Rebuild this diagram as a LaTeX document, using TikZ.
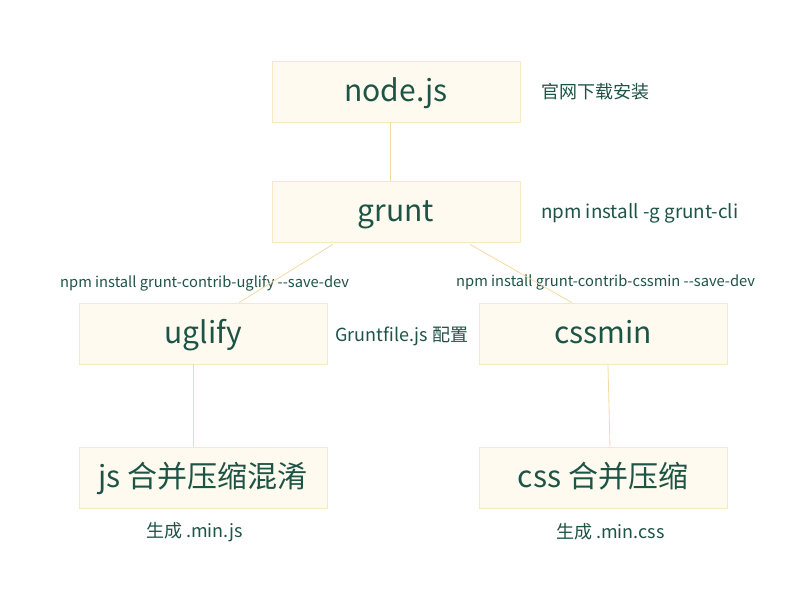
\documentclass[tikz,border=0pt]{standalone}
\usepackage{fontspec}
\setmainfont{Noto Sans CJK SC}
\usetikzlibrary{calc}
\definecolor{txt}{RGB}{30,84,70}
\definecolor{boxfill}{RGB}{255,250,240}
\definecolor{boxline}{RGB}{250,232,196}
\definecolor{conn}{RGB}{245,218,165}
\begin{document}
\begin{tikzpicture}[x=1pt,y=-1pt,
  stepbox/.style={draw=boxline,fill=boxfill,line width=0.8pt,minimum width=248pt,minimum height=61pt,inner sep=0pt,text height=24.2pt,text depth=3.8pt,text=txt,font=\fontsize{30}{34}\selectfont},
  side/.style={text=txt,anchor=west,inner sep=0pt,font=\fontsize{18}{20}\selectfont},
  small/.style={text=txt,inner sep=0pt,font=\fontsize{14.7}{16}\selectfont},
  conn/.style={draw=conn,line width=0.8pt}]
\useasboundingbox (0,0) rectangle (800,600);
\fill[white] (0,0) rectangle (800,600);
\node[stepbox] (node) at (396,91.5) {node.js};
\node[stepbox] (grunt) at (396,211.5) {grunt};
\node[stepbox] (uglify) at (203,333.5) {uglify};
\node[stepbox] (cssmin) at (603,333.5) {cssmin};
\node[stepbox] (js) at (203,477.5) {js 合并压缩混淆};
\node[stepbox] (css) at (603,477.5) {css 合并压缩};
\node[side] (l1) at (541,92) {官网下载安装};
\node[side,font=\fontsize{18.8}{20}\selectfont] (l2) at (541,213) {npm install -g grunt-cli};
\node[side] (l3) at (335,336) {Gruntfile.js 配置};
\node[small,anchor=west] (l4) at (60,283) {npm install grunt-contrib-uglify -{}-save-dev};
\node[small,anchor=west] (l5) at (456,282) {npm install grunt-contrib-cssmin -{}-save-dev};
\node[side,anchor=center] (l6) at (194.5,532) {生成 .min.js};
\node[side,anchor=center] (l7) at (610.5,532) {生成 .min.css};
\draw[conn] ($(node.south west)!0.476!(node.south east)$) -- ($(grunt.north west)!0.476!(grunt.north east)$);
\path ($(grunt.south west)!0.246!(grunt.south east)$) ++(0,2) coordinate (g1);
\draw[conn] (g1) -- ($(uglify.north west)!0.645!(uglify.north east)$);
\path ($(grunt.south west)!0.798!(grunt.south east)$) ++(0,2) coordinate (g2);
\draw[conn] (g2) -- ($(cssmin.north west)!0.375!(cssmin.north east)$);
\draw[conn] ($(uglify.south west)!0.46!(uglify.south east)$) -- ($(js.north west)!0.46!(js.north east)$);
\draw[conn] ($(cssmin.south west)!0.52!(cssmin.south east)$) -- ($(css.north west)!0.528!(css.north east)$);
\end{tikzpicture}
\end{document}
